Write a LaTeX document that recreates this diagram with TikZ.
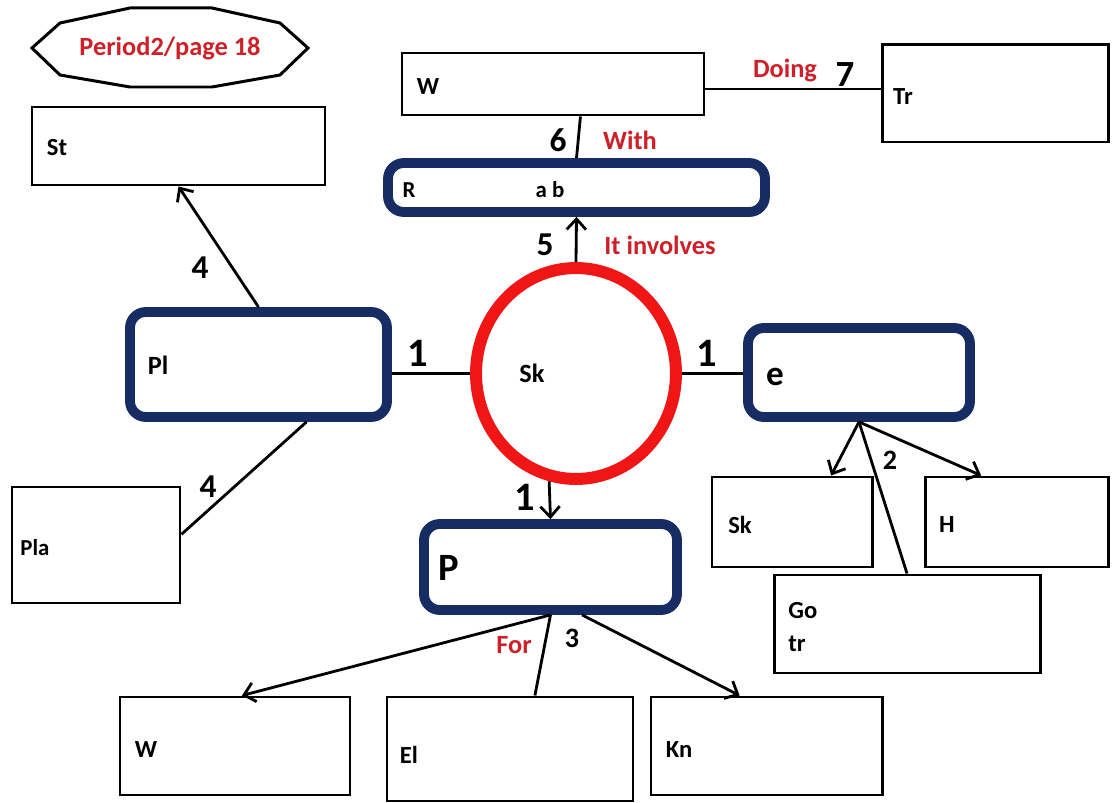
\documentclass[tikz,border=0pt]{standalone}
\usepackage{fontspec}
\setmainfont{Carlito}
\usetikzlibrary{arrows.meta,calc,fit,shapes.geometric,positioning}
\definecolor{navy}{RGB}{24,44,100}
\definecolor{ringred}{RGB}{240,22,22}
\definecolor{wordred}{RGB}{205,32,40}
\tikzset{
  >={Straight Barb[length=6pt,width=11pt]},
  plainbox/.style  = { draw, line width=1.7pt, fill=white, inner sep=0pt },
  bluebox/.style   = { draw=navy, line width=5.6pt, rounded corners=9pt, fill=white, inner sep=0pt },
  ring/.style      = { ellipse, draw=ringred, line width=6.8pt, fill=white, inner sep=0pt,
                       minimum width=4cm, minimum height=4.22cm },
  link/.style      = { line width=1.6pt },
  boxtext/.style   = { font=\fontsize{14}{18.7}\selectfont\bfseries, inner sep=0pt },
  smalltext/.style = { font=\fontsize{13}{15}\selectfont\bfseries, inner sep=0pt },
  num/.style       = { font=\fontsize{#1}{#1}\selectfont\bfseries, inner sep=0pt },
  num/.default     = 19,
  word/.style      = { text=wordred, font=\fontsize{15}{18}\selectfont\bfseries, inner sep=0pt },
}

\begin{document}
\begin{tikzpicture}[x=0.02cm, y=-0.02cm]
  \useasboundingbox (0,0) rectangle (1113,803);
  % the badge in the corner
  \draw[fill=white, line width=1.7pt] (32,48) -- (60,23) -- (130,8) -- (212,8) -- (280,23)
    -- (308,48) -- (280,75) -- (212,87) -- (130,87) -- (60,75) -- cycle;
  \node[word] (period) at (170,48) {Period2/page 18};
  % plain boxes
  \node[plainbox, fit={(32,107) (325,185)}]   (st)    {};
  \node[plainbox, fit={(12,487) (180,603)}]   (pla)   {};
  \node[plainbox, fit={(402,53) (704,115)}]   (wtop)  {};
  \node[plainbox, fit={(882,45) (1108,142)}]  (tr)    {};
  \node[plainbox, fit={(712,477) (872,567)}]  (skill) {};
  \node[plainbox, fit={(925,477) (1108,567)}] (h)     {};
  \node[plainbox, fit={(774,575) (1040,673)}] (go)    {};
  \node[plainbox, fit={(120,697) (350,795)}]  (wbot)  {};
  \node[plainbox, fit={(387,697) (633,801)}]  (el)    {};
  \node[plainbox, fit={(651,697) (882,795)}]  (kn)    {};
  % blue boxes and the ring in the middle
  \node[bluebox, fit={(388,163) (765,212)}] (r)  {};
  \node[bluebox, fit={(130,312) (387,417)}] (pl) {};
  \node[bluebox, fit={(748,328) (970,417)}] (e)  {};
  \node[bluebox, fit={(424,524) (677,610)}] (p)  {};
  \node[ring] (sk) at (576,373.5) {};
  %% texts of the boxes
  \node[boxtext]   (stl)    at (57,148)  {St};
  \node[smalltext] (plal)   at (35,548)  {Pla};
  \node[boxtext]   (wtopl)  at (428,87)  {W};
  \node[boxtext]   (trl)    at (903,97)  {Tr};
  \node[smalltext] (rl)     at (409,190) {R};
  \node[smalltext] (abl)    at (550,190) {a b};
  \node[boxtext, font=\fontsize{15}{18}\selectfont\bfseries] (pll) at (158,365) {Pl};
  \node[boxtext, font=\fontsize{15}{18}\selectfont\bfseries] (skl) at (532,373) {Sk};
  \node[boxtext, font=\fontsize{20}{22}\selectfont\bfseries] (el0) at (775,377) {e};
  \node[boxtext, font=\fontsize{22}{24}\selectfont\bfseries] (pl0) at (449,568) {P};
  \node[boxtext]   (skilll) at (740,525) {Sk};
  \node[boxtext]   (hl)     at (947,525) {H};
  \node[boxtext, align=left, anchor=west] (gol) at (788,627) {Go\\tr};
  \node[boxtext]   (wbotl)  at (146,750) {W};
  \node[boxtext]   (ell)    at (409,755) {El};
  \node[boxtext]   (knl)    at (679,750) {Kn};
  % connectors
  \draw[link] (sk.west -| pl.east) -- (sk.west);
  \draw[link] (sk.east) -- (sk.east -| e.west);
  \draw[link, ->] (sk.256) -- (p.north);
  \draw[link, ->] (sk.north) -- (r.south);
  \draw[link] (r.north) -- ($(wtop.south west)!.59!(wtop.south east)$);
  \draw[link] (wtop.east |- 0,89) -- (tr.west |- 0,89);
  \draw[link, ->] (pl.north) -- (st.south);
  \draw[link] ($(pl.south west)!.68!(pl.south east)$) -- ($(pla.north east)!.41!(pla.south east)$);
  \draw[link, ->] (e.south) -- ($(skill.north west)!.74!(skill.north east)$);
  \draw[link, ->] (e.south) -- ($(h.north west)!.31!(h.north east)$);
  \draw[link] (e.south) -- (go.north);
  \draw[link, ->] (p.south) -- ($(wbot.north west)!.53!(wbot.north east)$);
  \draw[link] (p.south) -- ($(el.north west)!.6!(el.north east)$);
  \draw[link, ->] ($(p.south west)!.62!(p.south east)$) -- ($(kn.north west)!.385!(kn.north east)$);
  %% numbers and words on the connectors
  \node[num=23] (n1a) at (418,353) {1};
  \node[num=23] (n1b) at (707,353) {1};
  \node[num=23] (n1c) at (525,497) {1};
  \node[num]    (n4a) at (200,268) {4};
  \node[num]    (n4b) at (208,487) {4};
  \node[num]    (n5)  at (545,245) {5};
  \node[num]    (n6)  at (558,140) {6};
  \node[num=21] (n7)  at (845,75)  {7};
  \node[num=16] (n2)  at (890,460) {2};
  \node[num=16] (n3)  at (572,638) {3};
  \node[word] (inv)   at (660,245) {It involves};
  \node[word] (with)  at (630,140) {With};
  \node[word] (doing) at (785,70)  {Doing};
  \node[word] (for)   at (514,645) {For};
\end{tikzpicture}
\end{document}
